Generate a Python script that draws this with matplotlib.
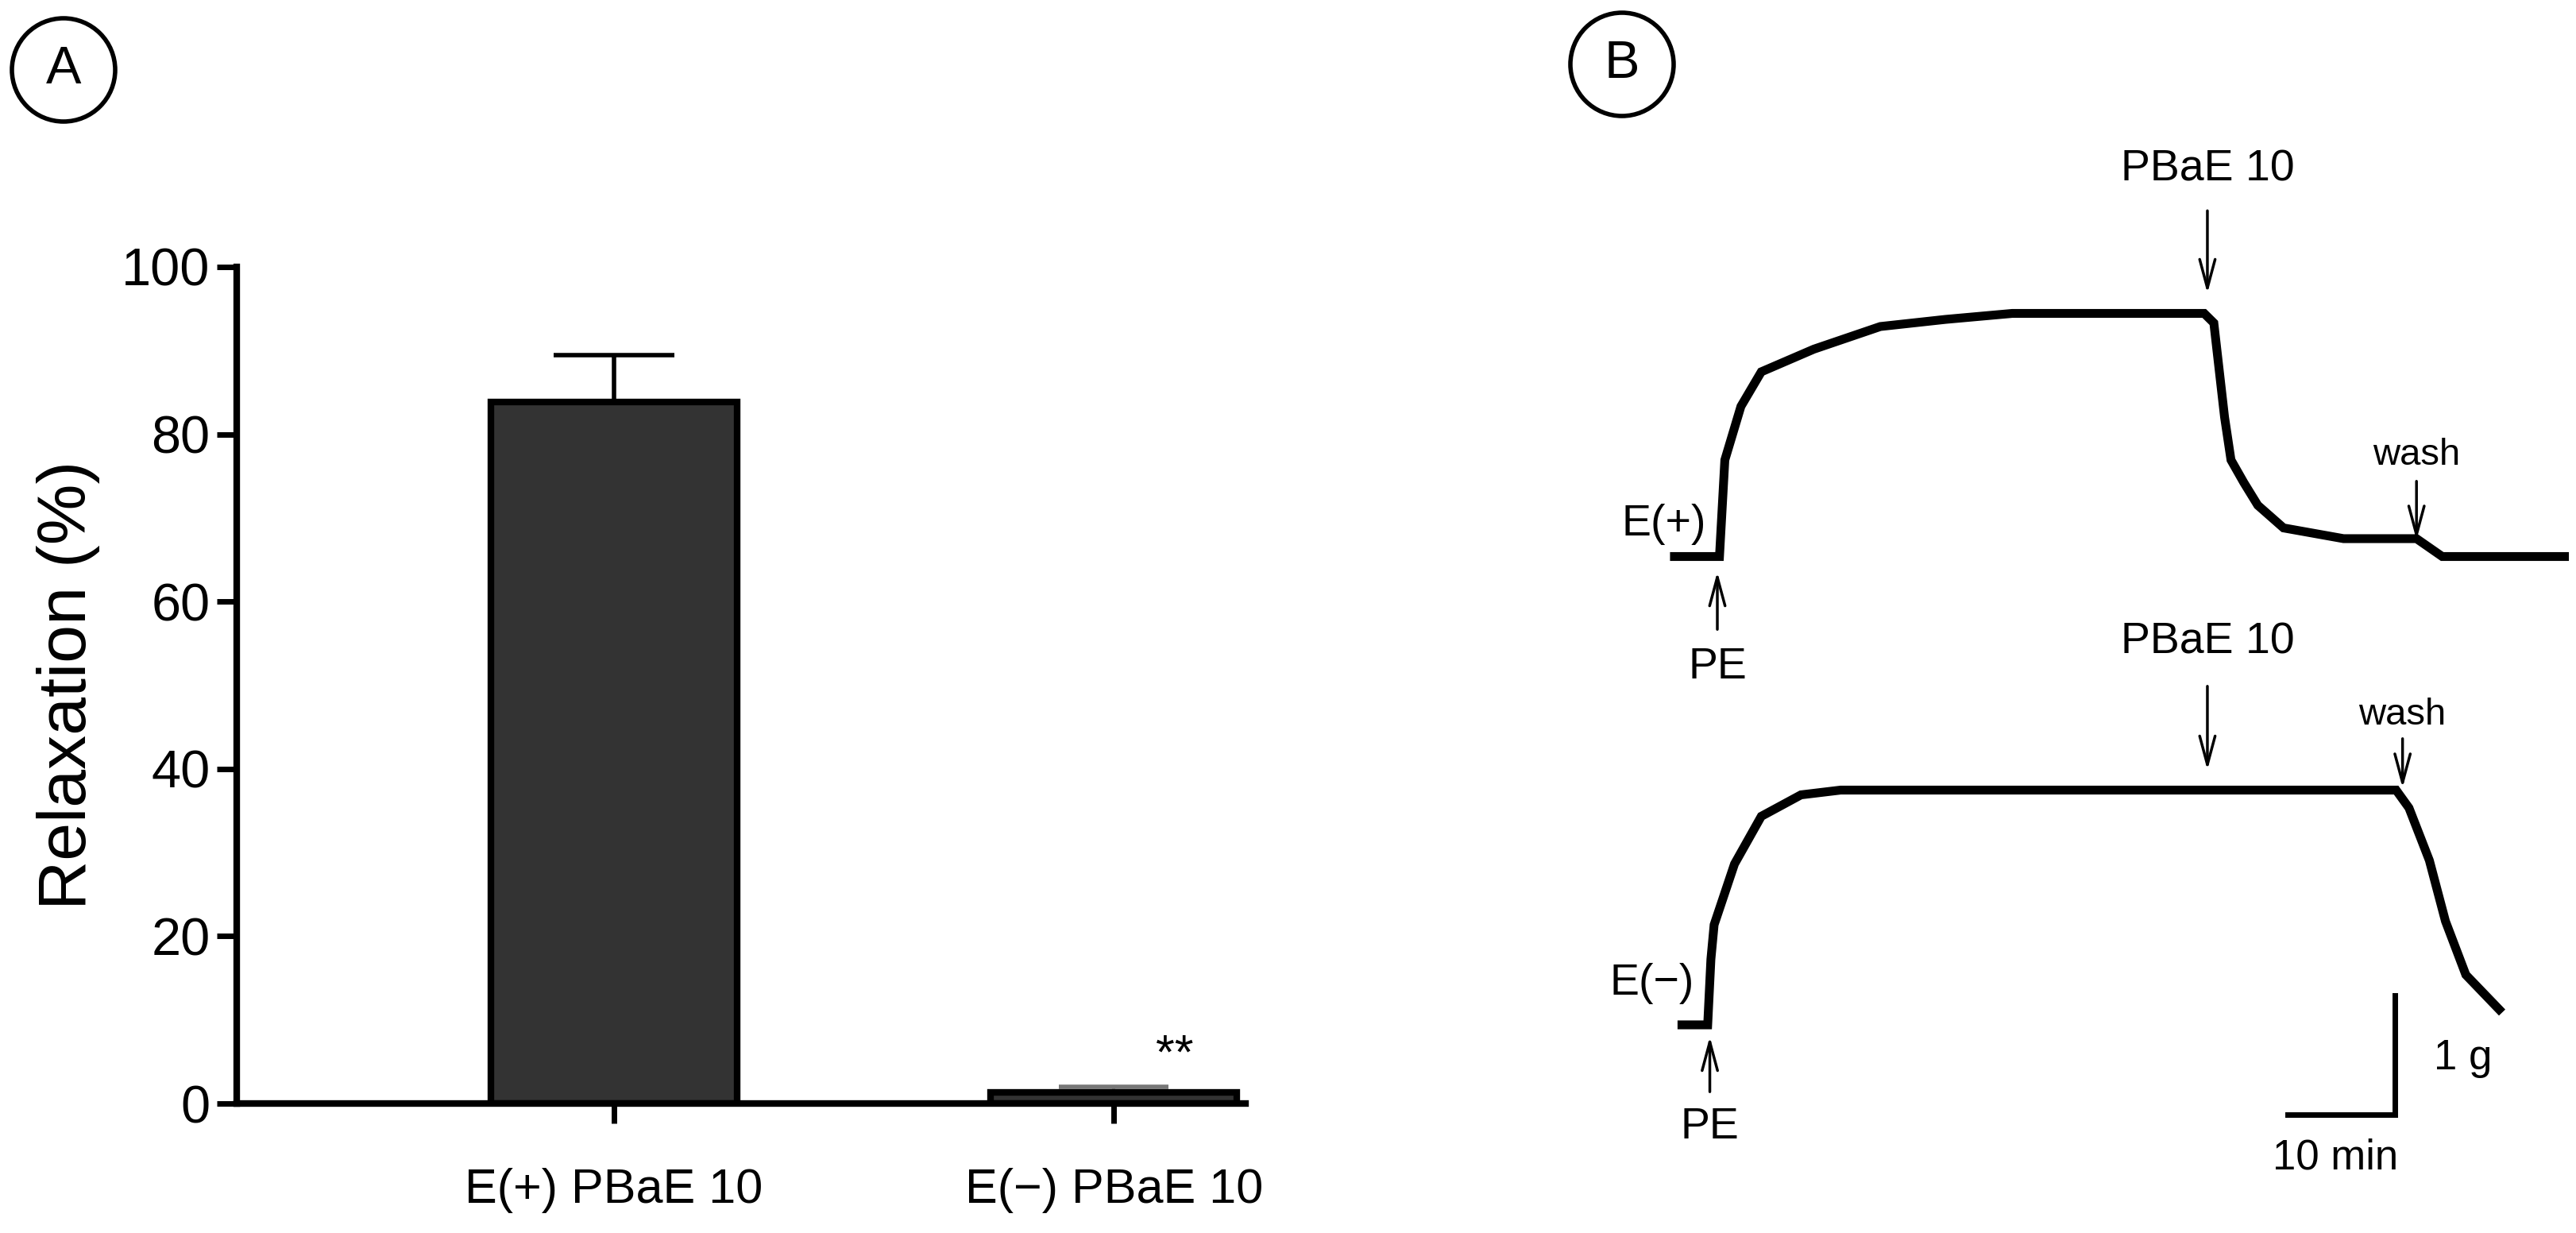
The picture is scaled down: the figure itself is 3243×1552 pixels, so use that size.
import matplotlib
matplotlib.use("Agg")
import matplotlib.pyplot as plt
from matplotlib.patches import Ellipse

plt.rcParams['font.family'] = ['Liberation Sans', 'DejaVu Sans']

# Panel A data
groups = ["E(+) PBaE 10", "E(\u2212) PBaE 10"]
relax_mean = [83.9, 1.3]
relax_sem = [5.6, 0.7]
sig_label = "**"
sig_y = 5.7

# Panel B traces (time in min, tension in g relative to baseline)
top_t = [0, 4.2, 4.7, 6.2, 8.1, 13.0, 19.2, 25.3, 31.5, 49.4, 50.3, 51.3, 51.9, 53.1, 54.4, 56.8, 62.4, 69.2, 71.6, 83.0]
top_g = [0, 0, 0.81, 1.26, 1.55, 1.74, 1.93, 1.99, 2.04, 2.04, 1.96, 1.17, 0.81, 0.62, 0.43, 0.24, 0.15, 0.15, 0, 0]
bot_t = [0.7, 3.1, 3.4, 3.7, 5.6, 8.1, 11.8, 15.5, 67.3, 68.5, 70.4, 71.9, 73.8, 76.9]
bot_g = [0, 0, 0.55, 0.84, 1.35, 1.75, 1.93, 1.97, 1.97, 1.82, 1.38, 0.87, 0.42, 0.13]
top_offset = 3.93

W, H = 3243, 1552
fig = plt.figure(figsize=(W/100, H/100), dpi=100)

# ---------- Panel A ----------
ax = fig.add_axes([298/W, 1-1389/H, (1568-298)/W, (1389-336)/H])
xpos = [0.748, 1.739]
ax.bar(xpos, relax_mean, width=0.488, color='#333333', edgecolor='black', linewidth=6, zorder=2)
ax.errorbar(xpos[0], relax_mean[0], yerr=[[0], [relax_sem[0]]], fmt='none', ecolor='black',
            elinewidth=4, capsize=55, capthick=4, zorder=1)
ax.errorbar(xpos[1], relax_mean[1], yerr=[[0], [relax_sem[1]]], fmt='none', ecolor='#777777',
            elinewidth=3, capsize=50, capthick=4, zorder=1)
ax.text(xpos[1] + 0.12, sig_y, sig_label, ha='center', va='center', fontsize=44)
ax.set_xlim(0, 2)
ax.set_ylim(0, 100)
ax.set_yticks(range(0, 101, 20))
ax.set_xticks(xpos)
ax.set_xticklabels(groups, fontsize=44)
ax.tick_params(axis='y', labelsize=48, width=5, length=18, pad=6)
ax.tick_params(axis='x', width=5, length=18, pad=40)
for s in ['top', 'right']:
    ax.spines[s].set_visible(False)
for s in ['left', 'bottom']:
    ax.spines[s].set_linewidth(6)
ax.spines['bottom'].set_zorder(3)
ax.set_ylabel("Relaxation (%)", fontsize=62, labelpad=20)

# circled labels
def circ_label(x, y, txt):
    fig.patches.append(Ellipse((x/W, 1-y/H), 130/W, 130/H, transform=fig.transFigure,
                               fill=False, edgecolor='black', linewidth=4))
    fig.text(x/W, 1-y/H, txt, ha='center', va='center', fontsize=48)

circ_label(80, 88, "A")
circ_label(2042, 81, "B")

# ---------- Panel B ----------
bx = fig.add_axes([1950/W, 0, (W-1950)/W, 1])
bx.set_xlim(-(2108-1950)/13.5, (W-2108)/13.5)
bx.set_ylim(-(H-1290)/150, 1290/150)
bx.axis('off')
bx.plot(top_t, [g + top_offset for g in top_g], color='black', lw=8, solid_joinstyle='miter')
bx.plot(bot_t, bot_g, color='black', lw=8, solid_joinstyle='miter')

fs = 40
aprops = dict(arrowstyle='->,head_length=2.6,head_width=0.7', color='black', lw=2.5)

def arrow(x, y0, y1):
    bx.annotate('', xy=(x, y1), xytext=(x, y0), arrowprops=aprops)

# top trace labels
bx.text(49.7, 7.18, "PBaE 10", ha='center', va='center', fontsize=fs)
arrow(49.7, 6.85, 6.12)
bx.text(69.2, 4.78, "wash", ha='center', va='center', fontsize=34)
arrow(69.2, 4.58, 4.05)
bx.text(-1.0, 4.2, "E(+)", ha='center', va='center', fontsize=fs)
arrow(4.0, 3.30, 3.82)
bx.text(4.0, 3.0, "PE", ha='center', va='center', fontsize=fs)

# bottom trace labels
bx.text(49.7, 3.21, "PBaE 10", ha='center', va='center', fontsize=fs)
arrow(49.7, 2.86, 2.12)
bx.text(67.9, 2.60, "wash", ha='center', va='center', fontsize=34)
arrow(67.9, 2.42, 1.97)
bx.text(-2.1, 0.35, "E(\u2212)", ha='center', va='center', fontsize=fs)
arrow(3.3, -0.58, -0.08)
bx.text(3.3, -0.86, "PE", ha='center', va='center', fontsize=fs)

# scale bar
bx.plot([57.2, 67.2, 67.2], [-0.75, -0.75, 0.25], color='black', lw=5, solid_joinstyle='miter')
bx.text(73.5, -0.28, "1 g", ha='center', va='center', fontsize=38)
bx.text(61.6, -1.12, "10 min", ha='center', va='center', fontsize=38)

fig.savefig("out.png", dpi=100)
